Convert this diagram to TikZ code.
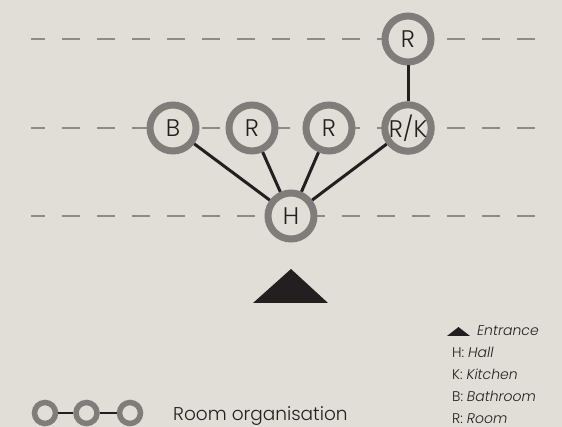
\documentclass[tikz,border=0pt]{standalone}
\usepackage{fontspec}
\IfFontExistsTF{Poppins Light}{%
  \setmainfont{Poppins}[UprightFont={* Light},ItalicFont={* Light Italic}]%
}{%
  \setmainfont{Poppins}%
}
\definecolor{bg}{HTML}{E1DED8}
\definecolor{ring}{HTML}{807C79}
\definecolor{dashc}{HTML}{8E8B87}
\definecolor{ink}{HTML}{231F20}
\begin{document}
\begin{tikzpicture}[x=1pt,y=-1pt,
  room/.style={circle,draw=ring,line width=7pt,fill=bg,minimum size=46pt,inner sep=0pt,
    text=ink,font=\fontsize{24}{24}\selectfont},
  mini/.style={circle,draw=ring,line width=5.5pt,fill=bg,minimum size=21pt,inner sep=0pt},
  level/.style={draw=dashc,line width=2.5pt,dash pattern=on 18pt off 17pt,dash phase=4pt},
  link/.style={draw=ink,line width=3pt},
  legtext/.style={anchor=base west,inner sep=0pt,text=ink,font=\fontsize{14}{14}\selectfont}]
\fill[bg] (0,0) rectangle (562,427);
\useasboundingbox (0,0) rectangle (562,427);
% levels
\coordinate (l1a) at (31,39); \coordinate (l1b) at (536,39);
\coordinate (l2a) at (31,128); \coordinate (l2b) at (536,128);
\coordinate (l3a) at (31,216); \coordinate (l3b) at (536,216);
\draw[level] (l1a) -- (l1b);
\draw[level] (l2a) -- (l2b);
\draw[level] (l3a) -- (l3b);
% rooms
\node[room] (R0) at (408,39) {R};
\node[room] (B) at (173,128) {B};
\node[room] (R1) at (252,128) {R};
\node[room] (R2) at (329,128) {R};
\node[room] (RK) at (408,128) {R/K};
\node[room] (H) at (291,216) {H};
\draw[link] (H) -- (B);
\draw[link] (H) -- (R1);
\draw[link] (H) -- (R2);
\draw[link] (H) -- (RK);
\draw[link] (RK) -- (R0);
% entrance
\fill[ink] (253,303) -- (291,269) -- (328,303) -- cycle;
% legend
\fill[ink] (447,336) -- (458.5,327) -- (470,336) -- cycle;
\node[legtext] (e) at (477,336) {\itshape Entrance};
\node[legtext] (lh) at (452,357.5) {H: \itshape Hall};
\node[legtext] (lk) at (452,379.5) {K: \itshape Kitchen};
\node[legtext] (lb) at (452,401.5) {B: \itshape Bathroom};
\node[legtext] (lr) at (452,423.5) {R: \itshape Room};
% room organisation legend
\node[mini] (m1) at (45,413) {};
\node[mini] (m2) at (86.5,413) {};
\node[mini] (m3) at (130,413) {};
\draw[draw=ink,line width=2pt] (m1) -- (m2);
\draw[draw=ink,line width=2pt] (m2) -- (m3);
\node[anchor=base west,inner sep=0pt,text=ink,font=\fontsize{18.5}{18.5}\selectfont] (ro) at (173,420) {Room organisation};
\end{tikzpicture}
\end{document}
